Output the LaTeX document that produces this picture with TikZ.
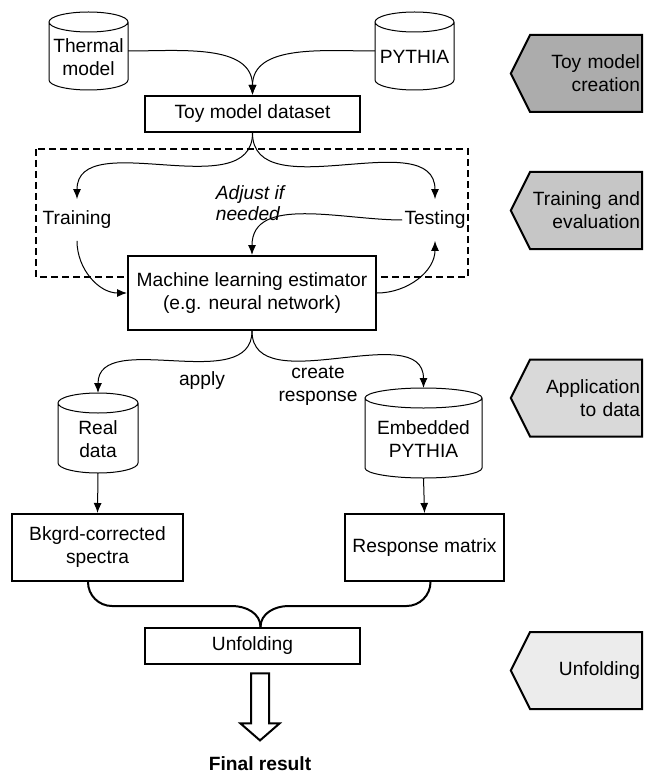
\documentclass[tikz,border=0pt]{standalone}
\usepackage{fontspec}
\setmainfont{Liberation Sans}
\usetikzlibrary{shapes.symbols,shapes.arrows,arrows.meta}
\begin{document}
\begin{tikzpicture}[x=0.5pt,y=-0.5pt,
  font=\fontsize{9.6}{11.5}\selectfont,
  box/.style={draw, fill=white, line width=1pt, minimum height=18pt, inner sep=1pt, align=center},
  db/.style 2 args={minimum width=#1, minimum height=#2, inner sep=0pt, outer sep=0pt,
    append after command={\pgfextra{\draw[line width=0.5pt] ([yshift=-5pt]\tikzlastnode.north west) -- ([yshift=5pt]\tikzlastnode.south west) arc[start angle=180, end angle=360, x radius=#1/2, y radius=5pt] -- ([yshift=-5pt]\tikzlastnode.north east) arc[start angle=0, end angle=360, x radius=#1/2, y radius=5pt];}}},
  tag/.style={signal, signal to=west, signal pointer angle=127, draw, line width=1pt, fill=#1, text width=54pt, align=right, minimum height=38.5pt, inner xsep=1pt, anchor=east},
  lnk/.style={-{Latex[length=5pt,width=4pt]}, line width=0.5pt},
  step lbl/.style={minimum height=20.5pt, inner sep=1pt}]
\useasboundingbox (0,0) rectangle (655,775);
\draw[line width=1pt, dash pattern=on 3.5pt off 2pt] (36,149) rectangle (468,277);
\node[db={39.5pt}{39pt}, label={[align=center, yshift=-3pt]center:{Thermal\\model}}] (thm) at (88.5,51) {};
\node[db={39.5pt}{39pt}, label={[yshift=-3pt]center:PYTHIA}] (py) at (414.5,51) {};
\node[box, minimum width=107.5pt] (toy) at (252.5,114) {Toy model dataset};
\node[step lbl] (trn) at (77,220) {Training};
\node[step lbl] (tst) at (435,220) {Testing};
\node[font=\fontsize{9.6}{10.5}\selectfont\itshape, align=left] (adj) at (250,203) {Adjust if\\needed};
\node[box, minimum width=124pt, minimum height=37pt] (mle) at (252,293) {Machine learning estimator\\(e.g. neural network)};
\node (app) at (202,381) {apply};
\node[align=center] (crt) at (318,386) {create\\response};
\node[db={40pt}{40pt}, label={[align=center, yshift=-3pt]center:{Real\\data}}] (real) at (98,433) {};
\node[db={58.5pt}{45pt}, label={[align=center, yshift=-3pt]center:{Embedded\\PYTHIA}}] (emb) at (423.5,433) {};
\node[box, minimum width=85.5pt, minimum height=33.5pt] (bkg) at (97.5,547.5) {Bkgrd-corrected\\spectra};
\node[box, minimum width=79.5pt, minimum height=33.5pt] (rsp) at (424.5,547.5) {Response matrix};
\node[box, minimum width=107.5pt] (unf) at (252.5,646) {Unfolding};
\node[single arrow, draw, line width=1pt, rotate=-90, inner xsep=0pt, inner ysep=4pt, minimum height=33.5pt, minimum width=0pt, single arrow head extend=5.25pt, single arrow tip angle=98] (res) at (260,703) {};
\node[font=\fontsize{9.6}{11.5}\selectfont\bfseries] (fin) at (260,764) {Final result};
\node[tag=gray!65] (t1) at (643,73.5) {Toy model\\creation};
\node[tag=gray!45] (t2) at (643,210.5) {Training and\\evaluation};
\node[tag=gray!30] (t3) at (643,398) {Application\\to data};
\node[tag=gray!15] (t4) at (643,670.5) {Unfolding};
\draw[lnk] (thm.east) to[out=0,in=90] (toy.north);
\draw[lnk] (py.west) to[out=180,in=90] (toy.north);
\draw[lnk] (toy.south) to[out=-90,in=90] (trn.north);
\draw[lnk] (toy.south) to[out=-90,in=90] (tst.north);
\draw[lnk] (tst.west) to[out=180,in=90] (mle.north);
\draw[lnk] (trn.south) to[out=-90,in=180] (mle.west);
\draw[lnk] (mle.east) to[out=0,in=-90] (tst.south);
\draw[lnk] (mle.south) to[out=-90,in=90] (real.north);
\draw[lnk] (mle.south) to[out=-90,in=90] (emb.north);
\draw[lnk] (real.south) -- (bkg.north);
\draw[lnk] (emb.south) -- (rsp.north);
\draw[line width=1pt] ([xshift=-4.75pt]bkg.south) to[out=-90,in=180] ++(24,24) -- ++(120,0) to[out=0,in=90] ([xshift=4pt]unf.north);
\draw[line width=1pt] ([xshift=3pt]rsp.south) to[out=-90,in=0] ++(-24,24) -- ++(-118,0) to[out=180,in=90] ([xshift=4pt]unf.north);
\end{tikzpicture}
\end{document}
